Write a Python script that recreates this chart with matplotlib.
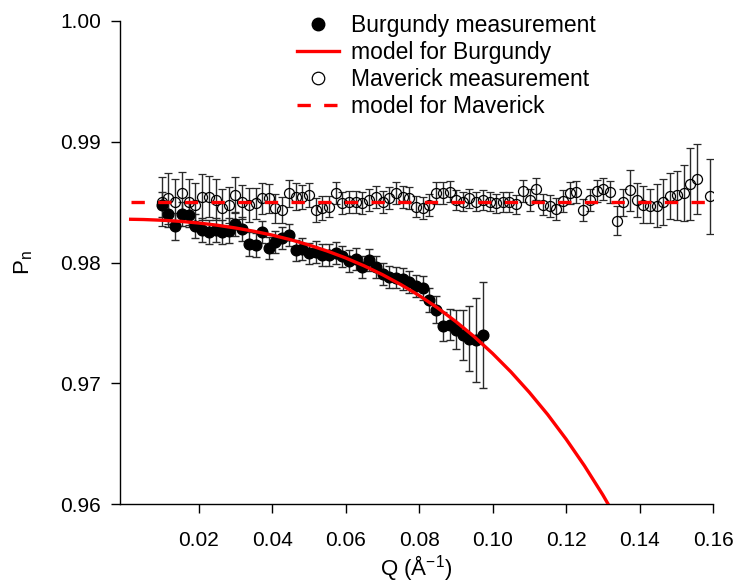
import matplotlib
matplotlib.use("Agg")
import matplotlib.pyplot as plt
from matplotlib.lines import Line2D
from matplotlib.ticker import FormatStrFormatter

plt.rcParams['font.family'] = ['Liberation Sans', 'DejaVu Sans']
plt.rcParams['mathtext.default'] = 'regular'

# ---------------- data ----------------
q_burgundy = [0.0100, 0.0118, 0.0136, 0.0155, 0.0173, 0.0191, 0.0209, 0.0227, 0.0246, 0.0264,
              0.0282, 0.0300, 0.0318, 0.0337, 0.0355, 0.0373, 0.0391, 0.0409, 0.0428, 0.0446,
              0.0464, 0.0482, 0.0500, 0.0519, 0.0537, 0.0555, 0.0573, 0.0591, 0.0610, 0.0628,
              0.0646, 0.0664, 0.0682, 0.0701, 0.0719, 0.0737, 0.0755, 0.0773, 0.0792, 0.0810,
              0.0828, 0.0846, 0.0864, 0.0883, 0.0901, 0.0919, 0.0937, 0.0955, 0.0974]
p_burgundy = [0.98480, 0.98400, 0.98300, 0.98400, 0.98390, 0.98300, 0.98270, 0.98250, 0.98270, 0.98255,
              0.98265, 0.98320, 0.98280, 0.98150, 0.98145, 0.98250, 0.98120, 0.98170, 0.98200, 0.98225,
              0.98100, 0.98110, 0.98075, 0.98085, 0.98060, 0.98065, 0.98080, 0.98050, 0.98010, 0.98030,
              0.97965, 0.98020, 0.97960, 0.97905, 0.97880, 0.97875, 0.97865, 0.97840, 0.97805, 0.97790,
              0.97690, 0.97610, 0.97470, 0.97485, 0.97445, 0.97400, 0.97370, 0.97360, 0.97400]
e_burgundy = [0.0010, 0.0011, 0.0011, 0.0010, 0.0010, 0.0010, 0.0010, 0.0010, 0.0010, 0.0010,
              0.0010, 0.0010, 0.0010, 0.0010, 0.0010, 0.0009, 0.0009, 0.0009, 0.0009, 0.0009,
              0.0009, 0.0009, 0.0009, 0.0009, 0.0009, 0.0009, 0.0009, 0.0009, 0.0009, 0.0009,
              0.0009, 0.0009, 0.0009, 0.0009, 0.0009, 0.0009, 0.0009, 0.0009, 0.0009, 0.0010,
              0.0010, 0.0011, 0.0012, 0.0013, 0.0016, 0.0021, 0.0027, 0.0035, 0.0044]

q_maverick = [0.0100, 0.0118, 0.0136, 0.0155, 0.0173, 0.0191, 0.0209, 0.0227, 0.0246, 0.0264,
              0.0282, 0.0300, 0.0318, 0.0337, 0.0355, 0.0373, 0.0391, 0.0409, 0.0428, 0.0446,
              0.0464, 0.0482, 0.0500, 0.0519, 0.0537, 0.0555, 0.0573, 0.0591, 0.0610, 0.0628,
              0.0646, 0.0664, 0.0682, 0.0701, 0.0719, 0.0737, 0.0755, 0.0773, 0.0792, 0.0810,
              0.0828, 0.0846, 0.0864, 0.0883, 0.0901, 0.0919, 0.0937, 0.0955, 0.0974, 0.0992,
              0.1010, 0.1028, 0.1046, 0.1065, 0.1083, 0.1101, 0.1119, 0.1137, 0.1156, 0.1174,
              0.1192, 0.1210, 0.1228, 0.1247, 0.1265, 0.1283, 0.1301, 0.1319, 0.1338, 0.1356,
              0.1374, 0.1392, 0.1410, 0.1429, 0.1447, 0.1465, 0.1483, 0.1501, 0.1520, 0.1538,
              0.1556, 0.1592]
p_maverick = [0.98504, 0.98532, 0.98504, 0.98573, 0.98504, 0.98476, 0.98545, 0.98545, 0.98518, 0.98449,
              0.98476, 0.98559, 0.98504, 0.98476, 0.98490, 0.98532, 0.98532, 0.98449, 0.98435, 0.98573,
              0.98545, 0.98545, 0.98559, 0.98435, 0.98449, 0.98463, 0.98573, 0.98490, 0.98504, 0.98504,
              0.98490, 0.98518, 0.98545, 0.98504, 0.98532, 0.98573, 0.98545, 0.98532, 0.98463, 0.98449,
              0.98476, 0.98573, 0.98573, 0.98587, 0.98518, 0.98504, 0.98532, 0.98504, 0.98518, 0.98504,
              0.98490, 0.98500, 0.98500, 0.98483, 0.98593, 0.98520, 0.98607, 0.98480, 0.98470, 0.98441,
              0.98510, 0.98578, 0.98585, 0.98435, 0.98520, 0.98593, 0.98607, 0.98585, 0.98346, 0.98497,
              0.98600, 0.98517, 0.98480, 0.98466, 0.98470, 0.98500, 0.98550, 0.98555, 0.98577, 0.98652,
              0.98688, 0.98550]
e_maverick = [0.0020, 0.0021, 0.0019, 0.0018, 0.0019, 0.0018, 0.0019, 0.0017, 0.0017, 0.0016,
              0.0015, 0.0015, 0.0014, 0.0014, 0.0013, 0.0013, 0.0012, 0.0012, 0.0011, 0.0011,
              0.0011, 0.0010, 0.0010, 0.0010, 0.0010, 0.0009, 0.0009, 0.0009, 0.0009, 0.0009,
              0.0009, 0.0009, 0.0009, 0.0009, 0.0009, 0.0009, 0.0009, 0.0009, 0.0009, 0.0009,
              0.0009, 0.0009, 0.0009, 0.0009, 0.0008, 0.0008, 0.0008, 0.0008, 0.0008, 0.0008,
              0.0008, 0.0008, 0.0008, 0.0008, 0.0009, 0.0009, 0.0009, 0.0009, 0.0009, 0.0009,
              0.0009, 0.0009, 0.0009, 0.0009, 0.0009, 0.0009, 0.0009, 0.0009, 0.0012, 0.0011,
              0.0017, 0.0014, 0.0015, 0.0014, 0.0018, 0.0019, 0.0019, 0.0020, 0.0023, 0.0030,
              0.0029, 0.0031]

q_model_burgundy = [0.0015, 0.005, 0.010, 0.015, 0.020, 0.025, 0.030, 0.035, 0.040, 0.045,
                    0.050, 0.055, 0.060, 0.065, 0.070, 0.075, 0.080, 0.085, 0.090, 0.095,
                    0.100, 0.105, 0.110, 0.115, 0.120, 0.125, 0.130, 0.135]
p_model_burgundy = [0.98358, 0.98356, 0.98350, 0.98341, 0.98327, 0.98309, 0.98286, 0.98259, 0.98227, 0.98189,
                    0.98145, 0.98095, 0.98038, 0.97973, 0.97900, 0.97818, 0.97727, 0.97625, 0.97511, 0.97386,
                    0.97247, 0.97094, 0.96925, 0.96741, 0.96538, 0.96317, 0.96076, 0.95813]

q_model_maverick = [0.0015, 0.1600]
p_model_maverick = [0.98500, 0.98500]

x_ticks = [0.02, 0.04, 0.06, 0.08, 0.10, 0.12, 0.14, 0.16]
y_ticks = [0.96, 0.97, 0.98, 0.99, 1.00]

# ---------------- figure ----------------
W, H = 735, 588
fig = plt.figure(figsize=(W / 100, H / 100), dpi=100)
L, R, T, B = 120, 713, 21, 504
ax = fig.add_axes([L / W, 1 - B / H, (R - L) / W, (B - T) / H])

bar_col = '#2a2a2a'
ax.errorbar(q_burgundy, p_burgundy, yerr=e_burgundy, fmt='o', ms=7.7,
            mfc='black', mec='black', mew=1, ecolor=bar_col, elinewidth=1.0,
            capsize=2.7, capthick=1.0, zorder=3)
ax.errorbar(q_maverick, p_maverick, yerr=e_maverick, fmt='o', ms=7.2,
            mfc='none', mec='black', mew=0.9, ecolor=bar_col, elinewidth=1.0,
            capsize=2.7, capthick=1.0, zorder=3)
ax.plot(q_model_burgundy, p_model_burgundy, color='#ff0000', lw=2.4, zorder=4)
ax.plot(q_model_maverick, p_model_maverick, color='#ff0000', lw=2.4,
        linestyle=(0, (4, 4)), zorder=4)

ax.set_xlim(-0.0014, 0.1600)
ax.set_ylim(0.96, 1.00)
ax.set_xticks(x_ticks)
ax.set_yticks(y_ticks)
ax.xaxis.set_major_formatter(FormatStrFormatter('%.2f'))
ax.yaxis.set_major_formatter(FormatStrFormatter('%.2f'))
ax.tick_params(direction='out', length=6.5, width=1.0, labelsize=15, colors='black')
ax.tick_params(axis='x', pad=13)
ax.tick_params(axis='y', pad=7)
for s in ['top', 'right']:
    ax.spines[s].set_visible(False)
for s in ['left', 'bottom']:
    ax.spines[s].set_linewidth(1.0)

ax.set_xlabel('Q (Å$^{-1}$)', fontsize=16, labelpad=2)
ax.set_ylabel('P$_n$', fontsize=16, labelpad=18)

handles = [
    Line2D([], [], marker='o', ls='none', ms=9, mfc='black', mec='black'),
    Line2D([], [], color='#ff0000', lw=2.4),
    Line2D([], [], marker='o', ls='none', ms=9, mfc='white', mec='black', mew=0.9),
    Line2D([], [], color='#ff0000', lw=2.4, linestyle=(0, (4, 4))),
]
labels = ['Burgundy measurement', 'model for Burgundy',
          'Maverick measurement', 'model for Maverick']
ax.legend(handles, labels, loc='upper left', bbox_to_anchor=(297 / W, 1 - 14 / H),
          bbox_transform=fig.transFigure, frameon=False, fontsize=16.5,
          handlelength=1.85, handletextpad=0.5, labelspacing=0.17,
          borderpad=0, borderaxespad=0)

fig.savefig('out.png', dpi=100)
